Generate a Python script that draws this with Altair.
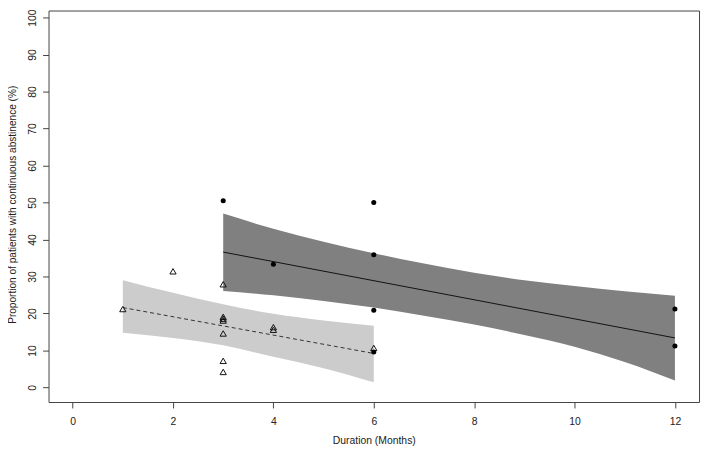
import altair as alt
import pandas as pd

# ---- data ----
circle_x = [3, 4, 6, 6, 6, 6, 12, 12]
circle_y = [50.5, 33.3, 50.0, 35.9, 20.9, 9.6, 21.2, 11.2]

tri_x = [1, 2, 3, 3, 3, 3, 3, 3, 3, 4, 4, 6]
tri_y = [21.2, 31.4, 27.9, 19.1, 18.6, 18.1, 14.6, 7.2, 4.2, 16.3, 15.6, 10.7]

dark_x = [3, 4, 5, 6, 7, 8, 9, 10, 11, 12]
dark_hi = [47.0, 42.9, 39.4, 36.3, 33.5, 31.0, 29.0, 27.4, 26.0, 24.8]
dark_lo = [26.1, 24.9, 23.4, 21.6, 19.4, 17.0, 14.2, 11.0, 6.9, 1.9]

light_x = [1, 2, 3, 4, 5, 6]
light_hi = [29.0, 25.6, 22.5, 19.9, 18.1, 16.7]
light_lo = [14.8, 13.4, 11.4, 8.3, 5.2, 1.4]

solid_x = [3, 12]
solid_y = [36.6, 13.4]
dash_x = [1, 6]
dash_y = [21.6, 9.2]

x_ticks = [0, 2, 4, 6, 8, 10, 12]
y_ticks = [0, 10, 20, 30, 40, 50, 60, 70, 80, 90, 100]

# ---- tables ----
df_c = pd.DataFrame({"x": circle_x, "y": circle_y})
df_t = pd.DataFrame({"x": tri_x, "y": tri_y})
df_d = pd.DataFrame({"x": dark_x, "lo": dark_lo, "hi": dark_hi})
df_l = pd.DataFrame({"x": light_x, "lo": light_lo, "hi": light_hi})
df_s = pd.DataFrame({"x": solid_x, "y": solid_y})
df_ds = pd.DataFrame({"x": dash_x, "y": dash_y})

FONT = "Liberation Sans"
FS = 10.5
xs = alt.Scale(domain=[-0.48, 12.48], nice=False, zero=False)
ys = alt.Scale(domain=[-3.93, 101.9], nice=False, zero=False)

xaxis = alt.Axis(values=x_ticks, grid=False, domain=False, tickSize=6,
                 tickColor="#444444", labelColor="#222222", labelFont=FONT,
                 labelFontSize=FS, labelPadding=9, labelFlush=False,
                 labelOverlap=False, title="Duration (Months)",
                 titleFont=FONT, titleFontSize=FS, titleFontWeight="normal",
                 titleColor="#222222", titleY=39, titleBaseline="middle",
                 titleAlign="center", format="d")
yaxis = alt.Axis(values=y_ticks, grid=False, domain=False, tickSize=6,
                 tickColor="#444444", labelColor="#222222", labelFont=FONT,
                 labelFontSize=FS, labelAngle=270, labelAlign="center",
                 labelBaseline="bottom", labelPadding=5.5, labelFlush=False,
                 labelOverlap=False,
                 title="Proportion of patients with continuous abstinence (%)",
                 titleFont=FONT, titleFontSize=10.2, titleFontWeight="normal",
                 titleColor="#222222", titleAngle=270, titleX=-41, titleY=196,
                 titleAlign="center", titleBaseline="top", format="d")

X = alt.X("x:Q", scale=xs, axis=xaxis)
Y = alt.Y("y:Q", scale=ys, axis=yaxis)
YL = alt.Y("lo:Q", scale=ys, axis=yaxis)

light = alt.Chart(df_l).mark_area(color="#cccccc", interpolate="monotone").encode(
    x=X, y=YL, y2="hi:Q")
dark = alt.Chart(df_d).mark_area(color="#808080", interpolate="monotone").encode(
    x=X, y=YL, y2="hi:Q")
solid = alt.Chart(df_s).mark_line(color="#111111", strokeWidth=1).encode(x=X, y=Y)
dashed = alt.Chart(df_ds).mark_line(color="#333333", strokeWidth=1,
                                    strokeDash=[4, 3]).encode(x=X, y=Y)
tris = alt.Chart(df_t).mark_point(shape="triangle-up", filled=False, size=40,
                                  color="#111111", strokeWidth=1,
                                  opacity=1).encode(x=X, y=Y)
circs = alt.Chart(df_c).mark_point(shape="circle", filled=True, size=26,
                                   color="#000000", opacity=1).encode(x=X, y=Y)

chart = alt.layer(light, dark, solid, dashed, tris, circs).properties(
    width=658, height=396,
    autosize=alt.AutoSizeParams(type="none"),
    padding={"left": 41, "top": 0, "right": 2, "bottom": 48},
    background="white",
).configure_view(stroke="#444444", strokeWidth=1)

chart.save("out.html", embed_options={"renderer": "svg", "actions": False})
